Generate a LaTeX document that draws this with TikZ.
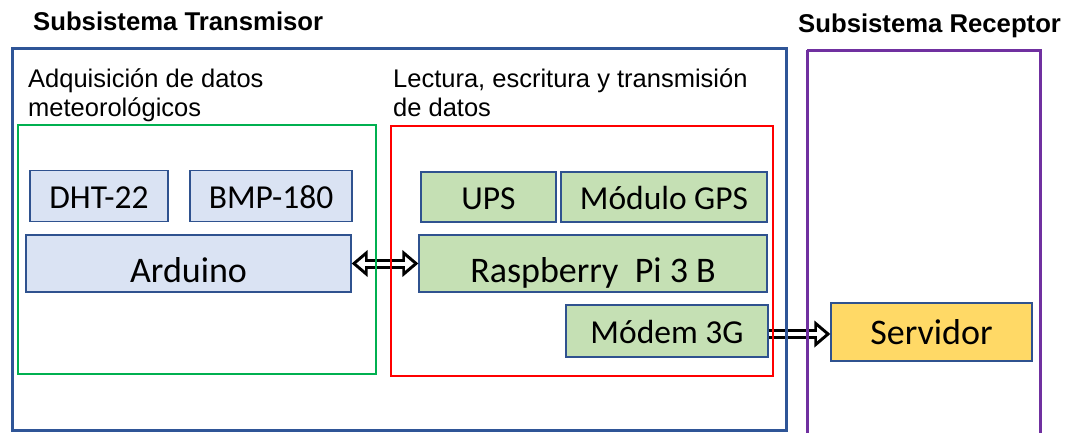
\documentclass[tikz,border=0pt]{standalone}
\usepackage{fontspec}
\setmainfont{Liberation Sans}
\newfontfamily\cajafont{Carlito}
\usetikzlibrary{arrows.meta}

\definecolor{marcoazul}{HTML}{2F5597}
\definecolor{marcoverde}{HTML}{00B050}
\definecolor{marcorojo}{HTML}{FF0000}
\definecolor{marcomorado}{HTML}{7030A0}
\definecolor{bordecaja}{HTML}{2F528F}
\definecolor{azulclaro}{HTML}{DAE3F3}
\definecolor{verdeclaro}{HTML}{C5E0B4}
\definecolor{amarillo}{HTML}{FFD966}

\begin{document}
\begin{tikzpicture}[x=1pt,y=-1pt,
  caja/.style={draw=bordecaja,line width=1.2pt,inner sep=0pt,text depth=0pt,text height=25pt,
    font=\cajafont\fontsize{33.5}{38}\selectfont},
  cajagrande/.style={caja,text height=37pt,font=\cajafont\fontsize{36}{40}\selectfont},
  titulo/.style={anchor=base west,inner sep=0pt,font=\bfseries\fontsize{25.7}{30}\selectfont},
  etiqueta/.style={anchor=base west,inner sep=0pt,align=left,font=\fontsize{25.5}{29}\selectfont},
  punta/.tip={Triangle[length=16pt,width=26pt]},
  puntab/.tip={Triangle[length=8.4pt,width=13.6pt]},
  flecha/.style={line width=10pt,black},
  flechab/.style={line width=4pt,white,shorten <=4.8pt,shorten >=4.8pt}]
\useasboundingbox (0,0) rectangle (1065,432);

\node[titulo] (tittx) at (33,30) {Subsistema Transmisor};
\node[titulo] (titrx) at (798,32) {Subsistema Receptor};

\node[etiqueta] (adq) at (28,116) {Adquisición de datos\\meteorológicos};
\node[etiqueta] (lec) at (393,116) {Lectura, escritura y transmisión\\de datos};

% adquisicion
\node[caja,fill=azulclaro,minimum width=138,minimum height=51] (dht) at (99,196) {DHT-22};
\node[caja,fill=azulclaro,minimum width=162,minimum height=51] (bmp) at (271,196) {BMP-180};
\node[cajagrande,fill=azulclaro,minimum width=325,minimum height=57] (arduino) at (188.5,263.5) {Arduino};

% lectura y transmision
\node[caja,fill=verdeclaro,minimum width=135,minimum height=50] (ups) at (488.5,197) {UPS};
\node[caja,fill=verdeclaro,minimum width=206,minimum height=50] (gps) at (664,197) {Módulo GPS};
\node[cajagrande,fill=verdeclaro,minimum width=348,minimum height=57] (rpi) at (593,263.5) {Raspberry~~Pi 3 B};
\node[caja,fill=verdeclaro,minimum width=202,minimum height=52] (modem) at (667,331) {Módem 3G};

% receptor
\node[cajagrande,text height=25pt,fill=amarillo,minimum width=201,minimum height=58] (servidor) at (931.5,332) {Servidor};

% flechas huecas: trazo negro y relleno blanco encima
\draw[flecha,punta-punta] (arduino) -- (rpi);
\draw[flechab,puntab-puntab] (arduino) -- (rpi);
\draw[flecha,-punta] ([yshift=-3]modem.east) -- ([yshift=-3]modem.east -| servidor.west);
\draw[flechab,shorten <=0pt,-puntab] ([yshift=-3]modem.east) -- ([yshift=-3]modem.east -| servidor.west);

\draw[marcoverde,line width=2.5pt] (18,125) rectangle (376,374);
\draw[marcorojo,line width=2.5pt] (391,126) rectangle (773,376);
\draw[marcoazul,line width=3pt] (12,48) rectangle (786,430);
\draw[marcomorado,line width=3pt] (807,50) -- (807,440) (807,50) -- (1040,50) -- (1040,440);

\end{tikzpicture}
\end{document}
